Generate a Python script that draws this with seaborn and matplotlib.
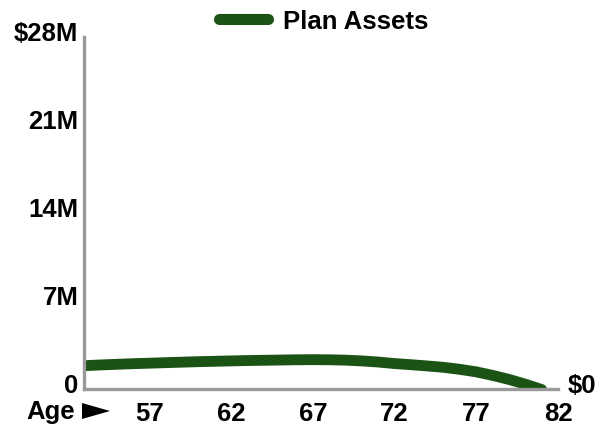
import matplotlib
matplotlib.use("Agg")
import matplotlib.pyplot as plt
import matplotlib.transforms as mtrans
from matplotlib.patches import Polygon
from matplotlib.lines import Line2D
import seaborn as sns
import pandas as pd

ages = list(range(53, 82))
assets_m = [1.89, 1.95, 2.00, 2.05, 2.09, 2.13, 2.17, 2.21, 2.24, 2.27,
            2.30, 2.32, 2.34, 2.36, 2.37, 2.36, 2.33, 2.27, 2.18, 2.06,
            1.97, 1.87, 1.76, 1.60, 1.40, 1.12, 0.80, 0.42, 0.00]
x_ticks = [57, 62, 67, 72, 77, 82]
y_ticks = [0, 7, 14, 21, 28]
y_tick_labels = ["0", "7M", "14M", "21M", "$28M"]
series_name = "Plan Assets"

sns.set_style("white")
plt.rcParams["font.family"] = ["Liberation Sans", "DejaVu Sans"]
plt.rcParams["font.weight"] = "bold"
plt.rcParams["text.color"] = "black"
plt.rcParams["xtick.color"] = "black"
plt.rcParams["ytick.color"] = "black"

FS = 18.5
df = pd.DataFrame({"Age": ages, "Assets": assets_m, "Series": series_name})

fig = plt.figure(figsize=(6, 4.27), dpi=100)
ax = fig.add_axes([0.14, 0.0855, 0.79, 0.8255])

green = "#1b5315"
sns.lineplot(data=df, x="Age", y="Assets", hue="Series", palette=[green],
             linewidth=7.8, ax=ax, legend=False, solid_capstyle="round")

ax.set_xlim(53, 82)
ax.set_ylim(0, 28)
ax.set_xticks(x_ticks)
ax.set_xticklabels([str(t) for t in x_ticks])
ax.set_yticks(y_ticks)
ax.set_yticklabels(y_tick_labels)
ax.set_xlabel("")
ax.set_ylabel("")

for s in ["top", "right"]:
    ax.spines[s].set_visible(False)
for s in ["left", "bottom"]:
    ax.spines[s].set_color("#9a9a9c")
    ax.spines[s].set_linewidth(2.4)
ax.tick_params(axis="both", length=0, labelsize=FS, labelcolor="black")
ax.tick_params(axis="x", pad=8)
ax.tick_params(axis="y", pad=4)
for lab in ax.get_xticklabels() + ax.get_yticklabels():
    lab.set_fontweight("bold")
off = mtrans.ScaledTranslation(0, 7 / 100, fig.dpi_scale_trans)
for lab in ax.get_yticklabels():
    lab.set_transform(lab.get_transform() + off)

ax.text(1.0, 0, "$0", transform=ax.get_yaxis_transform() + mtrans.ScaledTranslation(10 / 100, 7 / 100, fig.dpi_scale_trans),
        ha="left", va="center_baseline", fontsize=FS, fontweight="bold", clip_on=False, color="black")
fig.text(26 / 600, 1 - 412 / 427, "Age", ha="left", va="center", fontsize=FS,
         fontweight="bold", color="black")
W, H = 600.0, 427.0
tri = Polygon([(82 / W, 1 - 404 / H), (110 / W, 1 - 412 / H), (82 / W, 1 - 420 / H)],
              closed=True, transform=fig.transFigure, facecolor="black", edgecolor="none")
fig.patches.append(tri)

h = Line2D([], [], color=green, linewidth=8, solid_capstyle="round")
leg = fig.legend([h], [series_name], loc="center", bbox_to_anchor=(324 / 600, 1 - 22 / 427),
                 frameon=False, handlelength=1.9, handletextpad=0.58,
                 prop={"size": FS, "weight": "bold"})
for t in leg.get_texts():
    t.set_color("black")

fig.savefig("out.png", dpi=100)
